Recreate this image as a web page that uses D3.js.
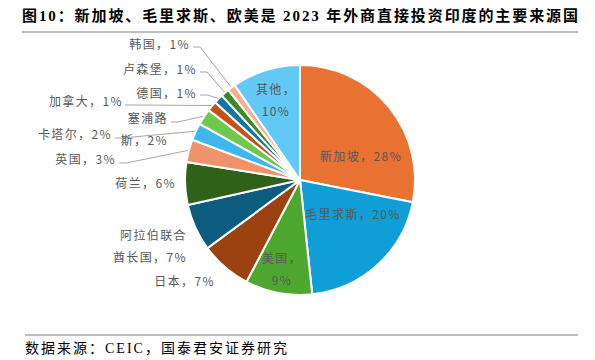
<!DOCTYPE html>
<html>
<head>
<meta charset="utf-8">
<script src="https://cdn.jsdelivr.net/npm/d3@7/dist/d3.min.js"></script>
<style>
  body { margin: 0; background: #fff; }
  text { font-family: "Noto Sans CJK SC", "Noto Sans", sans-serif; }
</style>
</head>
<body>
<script>
const countries = ["新加坡", "毛里求斯", "美国", "日本", "阿拉伯联合酋长国", "荷兰", "英国",
  "卡塔尔", "塞浦路斯", "加拿大", "德国", "卢森堡", "韩国", "其他"];
const shares = [28.1, 20.2, 9.4, 7.2, 6.6, 6.0, 3.2, 2.4, 2.3, 1.4, 1.3, 1.2, 1.1, 9.6];
const sliceColors = ["#E97132", "#0F9ED5", "#4EA72E", "#9C4110", "#0B5C7E", "#2E6219", "#F0936A",
  "#3EB8EC", "#6CC94C", "#C65112", "#0F76A6", "#3B8A23", "#F5AF8F", "#62C8F5"];

// label layout: x, y, anchor, line break index, leader start
const labelLayout = [
  { x: 361, y: 155, a: "middle" },
  { x: 353, y: 213, a: "middle" },
  { x: 282, y: 257, a: "middle", brk: 3 },
  { x: 215, y: 280, a: "end" },
  { x: 187, y: 234, a: "end", brk: 5 },
  { x: 176, y: 182, a: "end" },
  { x: 116, y: 158, a: "end", lead: [119, 163] },
  { x: 112, y: 133, a: "end", lead: [115, 138] },
  { x: 168, y: 117, a: "end", brk: 3, lead: [171, 122] },
  { x: 123, y: 100, a: "end", lead: [125, 105] },
  { x: 197, y: 92, a: "end", lead: [200, 95] },
  { x: 197, y: 68, a: "end", lead: [200, 72] },
  { x: 190, y: 43, a: "end", lead: [193, 47] },
  { x: 276, y: 88, a: "middle", brk: 3 }
];

const width = 595, height = 360;
const cx = 300, cy = 180, radius = 115;

const svg = d3.select("body").append("svg")
  .attr("width", width)
  .attr("height", height);

// title
svg.append("text")
  .attr("x", 22)
  .attr("y", 21)
  .attr("font-size", 15)
  .attr("font-weight", "bold")
  .attr("fill", "#000")
  .attr("textLength", 556)
  .attr("lengthAdjust", "spacing")
  .style("font-family", "'Liberation Serif', 'Noto Sans CJK SC', serif")
  .text("图10：新加坡、毛里求斯、欧美是 2023 年外商直接投资印度的主要来源国");

svg.append("line")
  .attr("x1", 22).attr("x2", 578)
  .attr("y1", 32).attr("y2", 32)
  .attr("stroke", "#7f7f7f")
  .attr("stroke-width", 1.2);

// footer
svg.append("line")
  .attr("x1", 25).attr("x2", 578)
  .attr("y1", 335).attr("y2", 335)
  .attr("stroke", "#7f7f7f")
  .attr("stroke-width", 1.2);

svg.append("text")
  .attr("x", 25)
  .attr("y", 353)
  .attr("font-size", 14)
  .attr("fill", "#000")
  .attr("textLength", 262)
  .attr("lengthAdjust", "spacing")
  .style("font-family", "'Liberation Serif', 'Noto Sans CJK SC', serif")
  .text("数据来源：CEIC，国泰君安证券研究");

const data = countries.map((c, i) => ({ name: c, value: shares[i], color: sliceColors[i], layout: labelLayout[i] }));

const pie = d3.pie().sort(null).value(d => d.value);
const arcs = pie(data);
const total = d3.sum(shares);

const arc = d3.arc().innerRadius(0).outerRadius(radius);

const g = svg.append("g").attr("transform", `translate(${cx},${cy})`);

g.selectAll("path")
  .data(arcs)
  .enter()
  .append("path")
  .attr("d", arc)
  .attr("fill", d => d.data.color)
  .attr("stroke", "#fff")
  .attr("stroke-width", 2)
  .attr("stroke-linejoin", "round");

// leader lines
const leadArcs = arcs.filter(d => d.data.layout.lead);
svg.selectAll("polyline.lead")
  .data(leadArcs)
  .enter()
  .append("polyline")
  .attr("class", "lead")
  .attr("fill", "none")
  .attr("stroke", "#a6a6a6")
  .attr("stroke-width", 1)
  .attr("points", d => {
    const mid = (d.startAngle + d.endAngle) / 2;
    const ex = cx + (radius + 1) * Math.sin(mid);
    const ey = cy - (radius + 1) * Math.cos(mid);
    const [sx, sy] = d.data.layout.lead;
    return `${sx},${sy} ${sx + 7},${sy} ${ex},${ey}`;
  });

// labels
arcs.forEach(d => {
  const L = d.data.layout;
  const pct = Math.round(d.value / total * 100);
  const full = `${d.data.name}，${pct}%`;
  const lines = L.brk ? [full.slice(0, L.brk), full.slice(L.brk)] : [full];
  const t = svg.append("text")
    .attr("font-size", 12)
    .attr("fill", "#595959")
    .attr("text-anchor", L.a)
    .attr("dominant-baseline", "central")
    .style("letter-spacing", "1.4px");
  lines.forEach((ln, k) => {
    t.append("tspan")
      .attr("x", L.x)
      .attr("y", L.y + k * 22)
      .text(ln);
  });
});
</script>
</body>
</html>
